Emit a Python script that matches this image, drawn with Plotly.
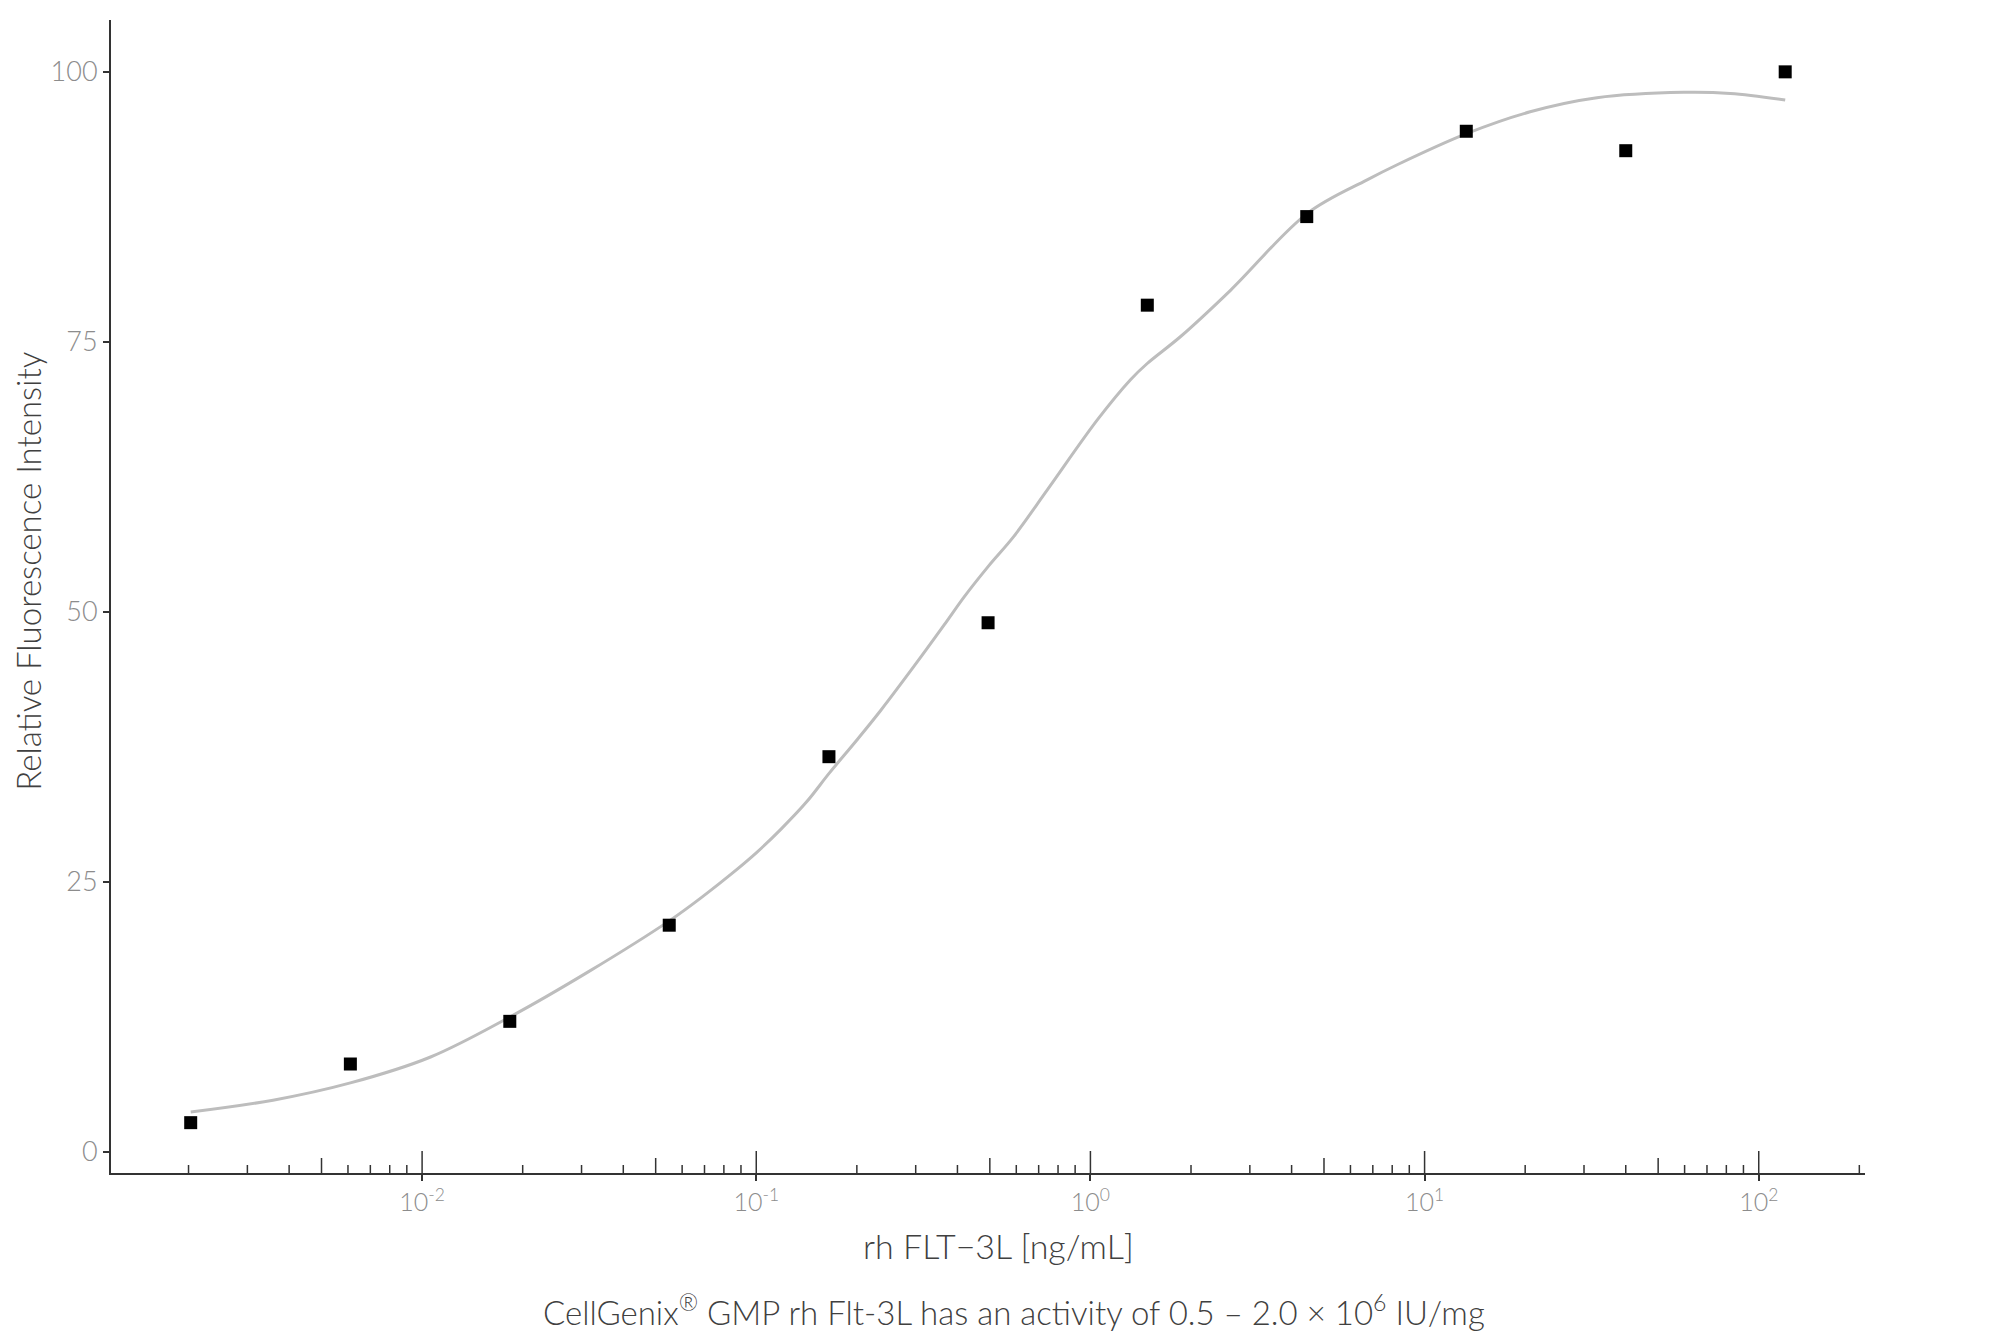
import plotly.graph_objects as go

# ---- data ----
conc = [0.00203, 0.0061, 0.0183, 0.0549, 0.165, 0.494, 1.48, 4.44, 13.33, 40.0, 120.0]
rfi = [2.72, 8.15, 12.1, 21.0, 36.6, 49.0, 78.4, 86.6, 94.5, 92.7, 100.0]

fit_conc = [0.00203, 0.00358, 0.0061, 0.0106, 0.0183, 0.0315, 0.0549, 0.0708, 0.0839,
            0.1, 0.1186, 0.1413, 0.1656, 0.1995, 0.236, 0.297, 0.365, 0.419, 0.494,
            0.590, 0.743, 1.05, 1.318, 1.479, 1.862, 2.63, 4.46, 6.73, 8.28, 13.4,
            20.7, 32.8, 59.6, 82.2, 120.0]
fit_rfi = [3.7, 4.8, 6.4, 8.8, 12.5, 16.7, 21.4, 23.9, 25.7,
           27.7, 29.9, 32.4, 35.1, 38.1, 40.9, 45.0, 48.8, 51.4, 54.2,
           57.0, 61.3, 67.8, 71.5, 73.0, 75.5, 79.8, 86.9, 90.0, 91.4, 94.3,
           96.3, 97.6, 98.1, 98.0, 97.4]

major_ticks = [0.01, 0.1, 1, 10, 100]
major_labels = ["10<sup>-2</sup>", "10<sup>-1</sup>", "10<sup>0</sup>", "10<sup>1</sup>", "10<sup>2</sup>"]
minor_mult = [2, 3, 4, 5, 6, 7, 8, 9]
decades = [0.001, 0.01, 0.1, 1, 10, 100]
y_ticks = [0, 25, 50, 75, 100]

X_RANGE_LOG = [-2.931, 2.318]
Y_RANGE = [-1.94, 104.8]

FONT = "Lato"
AXIS_COL = "#333333"
TICKLAB_COL = "#8c8c8c"
TITLE_COL = "#404040"

fig = go.Figure()
fig.add_trace(go.Scatter(x=fit_conc, y=fit_rfi, mode="lines",
                         line=dict(color="#bdbdbd", width=3, shape="spline", smoothing=1.0),
                         hoverinfo="skip", showlegend=False))
fig.add_trace(go.Scatter(x=conc, y=rfi, mode="markers",
                         marker=dict(symbol="square", size=13, color="black"),
                         showlegend=False))

# log ticks inside the panel (annotation_logticks style)
MT, MB, ML, MR = 12, 170, 103, 143
plot_h = 1335 - MT - MB
lo, hi = 10 ** X_RANGE_LOG[0], 10 ** X_RANGE_LOG[1]
for d in decades:
    for m in [1] + minor_mult:
        v = d * m
        if v < lo or v > hi:
            continue
        if m == 1:
            L = 22
        elif m == 5:
            L = 15
        else:
            L = 8
        fig.add_shape(type="line", xref="x", yref="paper", x0=v, x1=v, y0=0, y1=L / plot_h,
                      line=dict(color=AXIS_COL, width=1.5), layer="above")

fig.update_layout(
    width=2000, height=1335,
    margin=dict(l=ML, r=MR, t=MT, b=MB),
    plot_bgcolor="white", paper_bgcolor="white",
    font=dict(family=FONT, color=AXIS_COL, weight=300),
    xaxis=dict(type="log", range=X_RANGE_LOG, showgrid=False, zeroline=False,
               showline=True, linecolor=AXIS_COL, linewidth=2,
               ticks="outside", ticklen=6, tickwidth=1.5, tickcolor=AXIS_COL,
               tickvals=major_ticks, ticktext=major_labels,
               tickfont=dict(family=FONT, size=25, color=TICKLAB_COL, weight=300)),
    yaxis=dict(range=Y_RANGE, showgrid=False, zeroline=False,
               showline=True, linecolor=AXIS_COL, linewidth=2,
               ticks="outside", ticklen=6, tickwidth=1.5, tickcolor=AXIS_COL,
               tickvals=y_ticks,
               tickfont=dict(family=FONT, size=27, color=TICKLAB_COL, weight=300)),
)

fig.add_annotation(text="Relative Fluorescence Intensity", xref="paper", yref="paper",
                   x=-0.0475, y=0.522, textangle=-90, showarrow=False,
                   xanchor="center", yanchor="middle",
                   font=dict(family=FONT, size=33, color=TITLE_COL, weight=300))
fig.add_annotation(text="rh FLT\u22123L [ng/mL]", xref="paper", yref="paper",
                   x=0.506, y=-0.0633, showarrow=False, xanchor="center", yanchor="middle",
                   font=dict(family=FONT, size=34, color=TITLE_COL, weight=300))
fig.add_annotation(text="CellGenix<sup>\u00ae</sup> GMP rh Flt-3L has an activity of 0.5 \u2013 2.0 \u00d7 10<sup>6</sup> IU/mg",
                   xref="paper", yref="paper", x=0.515, y=-0.1188, showarrow=False,
                   xanchor="center", yanchor="middle",
                   font=dict(family=FONT, size=33, color=TITLE_COL, weight=300))

fig.write_html("out.html")
